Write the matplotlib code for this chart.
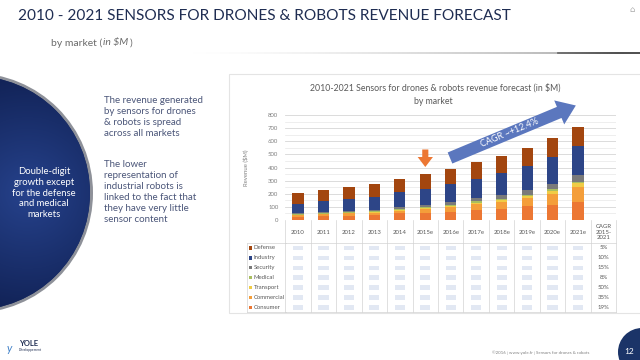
import numpy as np
import matplotlib
matplotlib.use("Agg")
import matplotlib.pyplot as plt
from matplotlib.patches import Circle, Rectangle, FancyArrow, Polygon
import matplotlib.transforms as mtransforms

# ---------------- data ----------------
years = ["2010", "2011", "2012", "2013", "2014", "2015e", "2016e",
         "2017e", "2018e", "2019e", "2020e", "2021e"]
markets = ["Defense", "Industry", "Security", "Medical", "Transport",
           "Commercial", "Consumer"]
consumer = [23, 28, 33, 37, 50, 57, 63, 75, 85, 103, 112, 136]
commercial = [12, 15, 18, 20, 22, 28, 38, 50, 55, 65, 88, 112]
transport = [2, 2, 2, 2, 2, 3, 5, 8, 12, 17, 24, 34]
medical = [5, 6, 6, 7, 7, 8, 8, 8, 9, 9, 10, 10]
security = [8, 10, 11, 12, 15, 18, 21, 25, 29, 33, 40, 48]
industry = [71, 80, 88, 98, 114, 124, 142, 147, 167, 185, 208, 222]
defense = [84, 90, 92, 102, 106, 112, 115, 128, 127, 137, 140, 150]
cagr = ["5%", "10%", "15%", "8%", "50%", "35%", "19%"]
yticks = [0, 100, 200, 300, 400, 500, 600, 700, 800]

colors = {
    "Defense": "#A3460F",
    "Industry": "#2D4587",
    "Security": "#7A7A7A",
    "Medical": "#A9BE5E",
    "Transport": "#F0CC45",
    "Commercial": "#F49E3A",
    "Consumer": "#EC7733",
}
series = {"Consumer": consumer, "Commercial": commercial, "Transport": transport,
          "Medical": medical, "Security": security, "Industry": industry,
          "Defense": defense}

FONT = "Lato"
plt.rcParams["font.family"] = [FONT, "DejaVu Sans"]

fig = plt.figure(figsize=(6.4, 3.6), dpi=100)
fig.patch.set_facecolor("white")

# background overlay in pixel coordinates
ov = fig.add_axes([0, 0, 1, 1], zorder=0)
ov.set_xlim(0, 640)
ov.set_ylim(360, 0)
ov.axis("off")

# ---- header ----
ov.text(18, 15.5, "2010 - 2021 SENSORS FOR DRONES & ROBOTS REVENUE FORECAST",
        fontsize=11.1, color="#1F2D52", va="center", ha="left")
sub_col = "#6A6A6A"
fig.canvas.draw()
renderer = fig.canvas.get_renderer()
xcur = 51
for part, sty in [("by market (", "normal"), ("in $M", "italic"), (")", "normal")]:
    t = ov.text(xcur, 43, part, fontsize=7.5, color=sub_col, va="center", ha="left",
                style=sty)
    bb = t.get_window_extent(renderer=renderer)
    xcur += bb.width + (1.5 if part.endswith("(") is False and sty == "italic" else 0.5)

# gradient rule under header
grad = np.zeros((1, 400, 4))
xs = np.linspace(0, 1, 400)
grad[0, :, 0:3] = np.where(xs[:, None] < 0.82, 0.6, 0.2)
grad[0, :, 3] = np.clip(xs * 1.05, 0, 1) ** 1.5 * 0.85
ov.imshow(grad, extent=[180, 640, 54.3, 52.7], aspect="auto", zorder=1)
ov.text(632, 9, "\u2302", fontsize=6, color="#AAAAAA", ha="center", va="center",
        family="DejaVu Sans")

# ---- left circle ----
cx, cy, r = -27, 193, 117
ring = Circle((cx, cy), r + 3, facecolor="#8E9199", edgecolor="none", zorder=2)
ov.add_patch(ring)
inner = Circle((cx, cy), r, facecolor="#15285E", edgecolor="none", zorder=3)
ov.add_patch(inner)
gx, gy = np.meshgrid(np.linspace(cx - r, cx + r, 200), np.linspace(cy - r, cy + r, 200))
d = np.sqrt((gx - (cx + 55)) ** 2 + (gy - cy) ** 2) / (r * 1.3)
d = np.clip(d, 0, 1)
c0 = np.array([0x26, 0x42, 0x8C]) / 255.0
c1 = np.array([0x0C, 0x1A, 0x48]) / 255.0
img = c0[None, None, :] * (1 - d[..., None]) + c1[None, None, :] * d[..., None]
im = ov.imshow(img, extent=[cx - r, cx + r, cy + r, cy - r], zorder=4)
im.set_clip_path(inner)
ov.text(44, 193, "Double-digit\ngrowth except\nfor the defense\nand medical\nmarkets",
        fontsize=6.8, color="white", ha="center", va="center", linespacing=1.28,
        zorder=5)

# ---- middle text ----
body_col = "#4B5679"
ov.text(104, 96, "The revenue generated\nby sensors for drones\n& robots is spread\nacross all markets",
        fontsize=7, color=body_col, ha="left", va="top", linespacing=1.3)
ov.text(104, 160, "The lower\nrepresentation of\nindustrial robots is\nlinked to the fact that\nthey have very little\nsensor content",
        fontsize=7, color=body_col, ha="left", va="top", linespacing=1.3)

# ---- chart panel ----
ov.add_patch(Rectangle((229, 74), 412, 239, facecolor="#FFFFFF",
                       edgecolor="#E4E4E4", lw=0.8, zorder=1))

# ---- chart axes ----
ax_left_px, ax_right_px = 285.3, 616.2
ax = fig.add_axes([ax_left_px / 640, (360 - 220) / 360,
                   (ax_right_px - ax_left_px) / 640, 105 / 360], zorder=2)
ax.patch.set_alpha(0)
x = np.arange(len(years))
bottom = np.zeros(len(years))
for name in ["Consumer", "Commercial", "Transport", "Medical", "Security",
             "Industry", "Defense"]:
    vals = np.array(series[name], dtype=float)
    ax.bar(x, vals, width=0.44, bottom=bottom, color=colors[name], zorder=3)
    bottom += vals
ax.set_xlim(-0.5, len(years) + 0.5)
ax.set_ylim(0, 800)
ax.set_yticks(yticks)
ax.set_yticklabels([str(v) for v in yticks], fontsize=4.3, color="#808080")
ax.set_yticks(np.arange(50, 800, 50), minor=True)
ax.tick_params(axis="y", length=0, pad=5)
ax.tick_params(axis="y", which="minor", length=0)
ax.set_xticks([])
ax.grid(axis="y", which="major", color="#D6D6D6", lw=0.6, zorder=0)
ax.grid(axis="y", which="minor", color="#E8E8E8", lw=0.5, zorder=0)
for s in ax.spines.values():
    s.set_visible(False)
ax.set_ylabel("Revenue ($M)", fontsize=4.3, color="#808080", labelpad=14)

ov.text(435, 88, "2010-2021 Sensors for drones & robots revenue forecast (in $M)",
        fontsize=6.3, color="#595959", ha="center", va="center")
ov.text(433, 102, "by market", fontsize=6.3, color="#595959", ha="center", va="center")

# ---- data table (x from chart axes, y in pixels) ----
tov = fig.add_axes([0, 0, 1, 1], zorder=3)
tov.set_xlim(0, 640)
tov.set_ylim(360, 0)
tov.axis("off")
tr2 = mtransforms.blended_transform_factory(ax.transData, tov.transData)

line_c = "#D3D3D3"
ncol = len(years) + 1
row_top = 243
row_h = 9.9
for i in range(ncol + 1):
    tov.plot([i - 0.5, i - 0.5], [220, row_top + 7 * row_h], color=line_c, lw=0.5,
             transform=tr2, zorder=1)
tov.plot([-0.5, ncol - 0.5], [row_top, row_top], color=line_c, lw=0.5,
         transform=tr2)
tov.plot([-0.5, ncol - 0.5], [row_top + 7 * row_h] * 2, color=line_c, lw=0.5,
         transform=tr2)
tov.plot([247, 286], [row_top, row_top], color=line_c, lw=0.5)
tov.plot([247, 286], [row_top + 7 * row_h] * 2, color=line_c, lw=0.5)
tov.plot([247, 247], [row_top, row_top + 7 * row_h], color=line_c, lw=0.5)
for i, yr in enumerate(years):
    tov.text(i, 232, yr, fontsize=4.3, color="#595959", ha="center", va="center",
             transform=tr2)
tov.text(len(years), 232, "CAGR\n2015-\n2021", fontsize=4.3, color="#595959",
         ha="center", va="center", linespacing=1.15, transform=tr2)
for j, m in enumerate(markets):
    yc = row_top + (j + 0.5) * row_h
    tov.add_patch(Rectangle((249, yc - 1.7), 3.4, 3.4, facecolor=colors[m],
                            edgecolor="none"))
    tov.text(253.5, yc, m, fontsize=4.3, color="#595959", ha="left", va="center")
    tov.text(len(years), yc, cagr[j], fontsize=4.3, color="#595959", ha="center",
             va="center", transform=tr2)
    for i in range(len(years)):
        tov.add_patch(Rectangle((i - 0.2, yc - 2.2), 0.4, 4.4, facecolor="#E2E8F3",
                                edgecolor="none", transform=tr2))

# ---- arrows ----
tov.add_patch(FancyArrow(450, 158, 127 * 0.86, -53 * 0.86, width=12, head_width=26,
                         head_length=18, length_includes_head=False,
                         color="#5B77BE", lw=0, zorder=5))
tov.text(510, 133, "CAGR ~+12.4%", fontsize=6.5, color="white", rotation=22.6,
         ha="center", va="center", rotation_mode="anchor", zorder=6)
xa = 5
tov.add_patch(Polygon([(xa - 0.12, 149.5), (xa + 0.12, 149.5), (xa + 0.12, 157),
                       (xa + 0.3, 157), (xa, 167), (xa - 0.3, 157), (xa - 0.12, 157)],
                      closed=True, facecolor="#EC7733", edgecolor="none",
                      transform=tr2, zorder=5))

# ---- footer ----
ov.text(7, 348, "y", fontsize=8, color="#3F80C8", ha="left", va="center",
        style="italic")
ov.text(19, 344, "YOLE", fontsize=5.5, color="#1F2D52", ha="left", va="center",
        weight="bold")
ov.text(19, 349.5, "Développement", fontsize=2.3, color="#1F2D52", ha="left",
        va="center")
ov.text(492, 353, "©2016 | www.yole.fr | Sensors for drones & robots", fontsize=3.2,
        color="#808080", ha="left", va="center")
ov.add_patch(Circle((642, 352), 24, facecolor="#1B3468", edgecolor="none", zorder=2))
ov.text(629, 352, "12", fontsize=6, color="white", ha="center", va="center",
        zorder=3)

fig.savefig("out.png", dpi=100, facecolor="white")
